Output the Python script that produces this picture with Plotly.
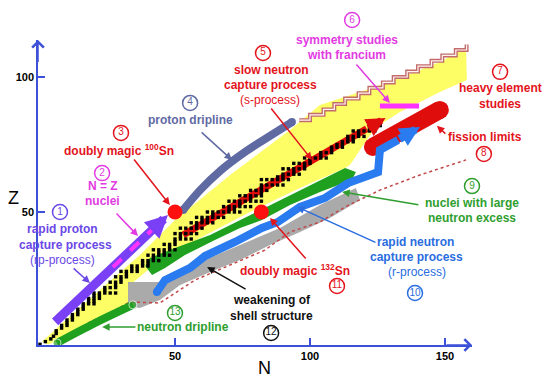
import plotly.graph_objects as go

# ---------------- data (N = neutron number, Z = proton number) ----------------
# stable nuclei: per Z the lowest / highest stable N (None = no stable isotope)
stable_Z = list(range(1, 84))
stable_Nmin = [0, 1, 3, 5, 5, 6, 7, 8, 10, 10,
               12, 12, 14, 14, 16, 16, 18, 18, 20, 20,
               24, 24, 28, 26, 30, 28, 32, 30, 34, 34,
               38, 38, 42, 40, 44, 42, 48, 46, 50, 50,
               52, 50, None, 52, 58, 56, 60, 58, 64, 62,
               70, 68, 74, 70, 78, 74, 82, 78, 82, 82,
               None, 82, 88, 90, 94, 90, 98, 94, 100, 98,
               104, 104, 108, 108, 110, 112, 114, 114, 118, 116,
               122, 124, 126]
stable_Nmax = [1, 2, 4, 5, 6, 7, 8, 10, 10, 12,
               12, 14, 14, 16, 16, 20, 20, 22, 22, 28,
               24, 28, 28, 30, 30, 32, 32, 36, 36, 40,
               40, 44, 42, 48, 46, 50, 48, 50, 50, 56,
               52, 58, None, 60, 58, 64, 62, 68, 64, 74,
               72, 78, 74, 82, 78, 82, 82, 84, 82, 90,
               None, 92, 90, 96, 94, 98, 98, 100, 100, 106,
               104, 108, 108, 112, 112, 116, 116, 120, 118, 124,
               124, 126, 126]

# region of known nuclei (yellow)
known_N = [0.7, 7.4, 22.2, 37.0, 50.0, 55.6, 70.4, 92.6, 103.7, 118.5, 133.3, 148.1, 157.8,
           158.1, 148.1, 133.3, 124.1, 118.5, 114.8, 113.0, 96.3, 77.8, 59.3, 44.4, 33.3, 33.3,
           22.2, 11.1, 3.0]
known_Z = [1.9, 8.1, 21.1, 34.1, 47.0, 51.5, 63.7, 80.4, 89.6, 94.4, 99.6, 105.6, 110.7,
           98.9, 94.4, 87.0, 81.1, 73.0, 67.4, 66.3, 58.9, 50.0, 40.4, 32.2, 23.0, 16.7,
           10.0, 4.1, 0.9]

# heavy-element staircase edge
stair_N = [96, 100, 105, 109, 113, 118, 122, 127, 131, 136, 140, 145, 149, 154, 158]
stair_Z = [84, 86, 88, 90, 92, 94, 96, 98, 100, 102, 104, 106, 108, 110, 112]

# weakening of shell structure (gray)
shell_N = [32.6, 44.4, 59.3, 74.1, 88.9, 103.7, 117.0, 118.5, 107.4, 96.3, 85.2, 74.1, 63.0,
           51.9, 44.4, 37.0, 32.6]
shell_Z = [24.1, 24.1, 31.5, 37.8, 44.1, 52.6, 58.9, 54.4, 47.8, 42.6, 37.8, 32.2, 27.8,
           23.0, 17.4, 14.4, 15.2]

# predicted limit (dotted)
limit_N = [17.8, 25.9, 33.3, 44.4, 57.4, 70.4, 83.3, 92.6, 103.7, 113.0, 125.9, 140.7, 157.8]
limit_Z = [8.9, 12.6, 16.7, 16.3, 24.8, 30.4, 35.9, 42.6, 46.3, 51.9, 58.1, 63.7, 69.3]

# nuclei with large neutron excess (green)
excess_N = [40.7, 50.0, 63.0, 77.8, 92.6, 103.7, 113.0, 117.0, 115.6, 103.7, 92.6, 82.2, 74.1,
            64.8, 53.7, 46.3, 41.5, 39.0]
excess_Z = [33.0, 36.7, 41.5, 48.9, 56.3, 61.9, 66.3, 64.8, 61.9, 57.4, 52.6, 47.0, 44.1,
            39.6, 34.1, 29.3, 26.7, 30.0]

# r-process path (blue)
r_N = [43.3, 46.3, 55.6, 61.1, 72.2, 82.2, 88.1, 96.3, 105.6, 114.1, 125.2, 125.9, 132.6, 140.7]
r_Z = [20.4, 24.8, 29.3, 33.7, 38.9, 44.1, 46.3, 51.9, 55.2, 60.7, 64.8, 73.0, 76.7, 81.5]

# s-process path (red)
s_N = [53.0, 121.0, 128.0]
s_Z = [41.5, 80.8, 84.8]

# rp-process path (purple) and N = Z segment
rp_N = [5.6, 43.0, 47.4]
rp_Z = [9.3, 44.7, 48.9]
nz_N = [27.0, 44.0]
nz_Z = [29.6, 45.7]

# driplines
pdrip_N = [53.0, 59.3, 66.7, 75.9, 83.3, 93.3]
pdrip_Z = [50.7, 58.1, 65.2, 72.2, 77.0, 83.3]
ndrip_N = [6.3, 20.4, 34.4]
ndrip_Z = [1.5, 8.9, 15.6]

# doubly magic nuclei
magic_N = [50, 82]
magic_Z = [50, 50]

# francium bar, fission limits
fr_N = [125.9, 140.4]
fr_Z = [89.3, 89.3]
fis_N = [123.3, 148.1]
fis_Z = [74.1, 87.8]

# circled numbers
num_text = [str(i) for i in range(1, 14)]
num_N = [7.4, 23.0, 30.0, 55.6, 82.6, 115.6, 170.4, 164.4, 160.0, 138.9, 110.0, 85.6, 50.0]
num_Z = [50.0, 64.4, 79.3, 90.4, 108.9, 121.1, 101.9, 71.5, 59.6, 20.0, 22.6, 5.2, 12.6]

x_ticks = [50, 100, 150]
y_ticks = [50, 100]

# ---------------- colours ----------------
PURPLE = "#6b48e6"
PURPLE_LINE = "#7a40f5"
MAGENTA = "#e23be2"
MAG_LINE = "#ff33ff"
RED = "#e3141c"
SLATE = "#5f6aa3"
GREEN = "#2f9e2f"
GREEN_FILL = "#1fa01f"
BLUE = "#2a6de0"
BLUE_LINE = "#2a7bef"
BLACK = "#111111"
AXIS = "#3d50d8"
FONT = "Liberation Sans, Arial, sans-serif"

num_colors = [PURPLE, MAGENTA, RED, SLATE, RED, MAGENTA, RED, RED, GREEN, BLUE, RED, BLACK, GREEN]

fig = go.Figure()

def add(**kw):
    fig.add_trace(go.Scatter(xaxis="x", yaxis="y", **kw))

# known nuclei
add(x=known_N, y=known_Z, fill="toself", fillcolor="#fdfd66", line=dict(width=0), mode="lines")
# staircase
add(x=stair_N, y=stair_Z, mode="lines", line=dict(color="#c26c6c", width=4, shape="hv"))
add(x=stair_N, y=stair_Z, mode="lines", line=dict(color="#fff4f0", width=1.2, shape="hv"))
# gray region
add(x=shell_N, y=shell_Z, fill="toself", fillcolor="#aaaaaa", line=dict(width=0), mode="lines")
# dotted limit
add(x=limit_N, y=limit_Z, mode="lines", line=dict(color="#c24848", width=1.5, dash="dot"))
# neutron-excess region
add(x=excess_N, y=excess_Z, fill="toself", fillcolor=GREEN_FILL, line=dict(width=0), mode="lines")
# fission limits
add(x=fis_N, y=fis_Z, mode="lines+markers", line=dict(color="#e00d0d", width=18),
    marker=dict(color="#e00d0d", size=18))
# r-process
add(x=r_N[:-1], y=r_Z[:-1], mode="lines", line=dict(color=BLUE_LINE, width=8))
add(x=r_N[:1], y=r_Z[:1], mode="markers", marker=dict(color=BLUE_LINE, size=8))
# neutron dripline
add(x=ndrip_N, y=ndrip_Z, mode="lines+markers", line=dict(color=GREEN_FILL, width=8, shape="spline"),
    marker=dict(color=GREEN_FILL, size=[8, 0, 8]))
# proton dripline
add(x=pdrip_N, y=pdrip_Z, mode="lines", line=dict(color=SLATE, width=8, shape="spline"))
add(x=[pdrip_N[0], pdrip_N[-1]], y=[pdrip_Z[0], pdrip_Z[-1]], mode="markers",
    marker=dict(color=SLATE, size=8))
# s-process
add(x=s_N[:2], y=s_Z[:2], mode="lines", line=dict(color="#e00d0d", width=7))
# stable nuclei
sq_N, sq_Z = [], []
for z, a, b in zip(stable_Z, stable_Nmin, stable_Nmax):
    if a is None:
        continue
    for n in range(a, b + 1):
        if n % 2 == 0 or a == b:
            sq_N.append(n)
            sq_Z.append(z)
add(x=sq_N, y=sq_Z, mode="markers",
    marker=dict(symbol="square", size=3.4, color="black", line=dict(width=0)))
# rp-process
add(x=rp_N[:2], y=rp_Z[:2], mode="lines", line=dict(color=PURPLE_LINE, width=9))
add(x=nz_N, y=nz_Z, mode="lines", line=dict(color=MAG_LINE, width=4, dash="dash"))
# doubly magic
add(x=magic_N, y=magic_Z, mode="markers", marker=dict(color="#ff1010", size=15))
# francium bar
add(x=fr_N, y=fr_Z, mode="lines", line=dict(color=MAG_LINE, width=5))
# circled numbers
add(x=num_N, y=num_Z, mode="markers+text", text=num_text, textposition="middle center",
    textfont=dict(family=FONT, size=10, color=num_colors),
    marker=dict(symbol="circle", size=15, color="white", line=dict(color=num_colors, width=1.5)))

# visible axes subplot (needs a trace to be drawn)
fig.add_trace(go.Scatter(x=[None], y=[None], xaxis="x2", yaxis="y2", mode="markers"))

ann = []
# thick arrow heads
for (xs, ys, col, w, sz) in [(s_N, s_Z, "#e00d0d", 7, 0.55),
                              (rp_N, rp_Z, PURPLE_LINE, 9, 0.5),
                              (r_N, r_Z, BLUE_LINE, 8, 0.5)]:
    ann.append(dict(x=xs[-1], y=ys[-1], ax=xs[-2], ay=ys[-2], xref="x", yref="y",
                    axref="x", ayref="y", text="", showarrow=True, arrowhead=2,
                    arrowsize=sz, arrowwidth=w, arrowcolor=col))

labels = [
    ("<b>rapid proton</b>", 8.5, 43.7, PURPLE),
    ("<b>capture process</b>", 9.3, 37.8, PURPLE),
    ("(rp-process)", 8.5, 32.2, PURPLE),
    ("<b>N = Z</b>", 23.3, 59.6, MAGENTA),
    ("<b>nuclei</b>", 23.3, 54.1, MAGENTA),
    ("<b>doubly magic <sup>100</sup>Sn</b>", 29.3, 73.0, RED),
    ("<b>proton dripline</b>", 55.6, 84.1, SLATE),
    ("<b>slow neutron</b>", 85.9, 102.6, RED),
    ("<b>capture process</b>", 85.2, 97.0, RED),
    ("(s-process)", 85.2, 91.5, RED),
    ("<b>symmetry studies</b>", 113.7, 113.7, MAGENTA),
    ("<b>with francium</b>", 113.7, 108.1, MAGENTA),
    ("<b>heavy element</b>", 170.4, 95.9, RED),
    ("<b>studies</b>", 170.4, 90.0, RED),
    ("<b>fission limits</b>", 164.8, 77.8, RED),
    ("<b>nuclei with large</b>", 160.0, 53.3, GREEN),
    ("<b>neutron excess</b>", 160.0, 47.8, GREEN),
    ("<b>rapid neutron</b>", 138.9, 38.9, BLUE),
    ("<b>capture process</b>", 139.6, 33.3, BLUE),
    ("(r-process)", 139.6, 27.8, BLUE),
    ("<b>doubly magic <sup>132</sup>Sn</b>", 94.4, 28.5, RED),
    ("<b>weakening of</b>", 85.9, 17.4, BLACK),
    ("<b>shell structure</b>", 85.9, 11.5, BLACK),
    ("<b>neutron dripline</b>", 53.0, 7.4, GREEN),
]
for t, x, y, c in labels:
    ann.append(dict(x=x, y=y, xref="x", yref="y", text=t, showarrow=False,
                    font=dict(family=FONT, size=12, color=c)))

pointers = [
    ((11.9, 29.6), (18.5, 23.7), PURPLE),
    ((27.8, 50.0), (36.3, 41.1), MAGENTA),
    ((34.4, 70.0), (48.1, 52.6), RED),
    ((59.3, 80.0), (71.1, 69.3), SLATE),
    ((85.2, 88.9), (100.7, 69.3), RED),
    ((116.7, 105.2), (129.6, 90.4), MAGENTA),
    ((150.7, 78.5), (147.0, 81.9), RED),
    ((140.7, 52.6), (111.9, 57.4), GREEN),
    ((124.8, 38.5), (95.2, 51.9), BLUE),
    ((98.9, 32.2), (85.2, 47.8), RED),
    ((76.7, 21.1), (61.9, 29.6), BLACK),
    ((35.9, 7.4), (23.0, 7.4), GREEN),
]
for (t, h, c) in pointers:
    ann.append(dict(x=h[0], y=h[1], ax=t[0], ay=t[1], xref="x", yref="y",
                    axref="x", ayref="y", text="", showarrow=True, arrowhead=2,
                    arrowsize=1, arrowwidth=1.5, arrowcolor=c))

# axis arrows and titles
ann.append(dict(x=160, y=0.74, ax=150, ay=0.74, xref="x", yref="y", axref="x", ayref="y",
                text="", showarrow=True, arrowhead=4, arrowsize=1.5, arrowwidth=1.5, arrowcolor=AXIS))
ann.append(dict(x=-0.74, y=113.7, ax=-0.74, ay=105, xref="x", yref="y", axref="x", ayref="y",
                text="", showarrow=True, arrowhead=4, arrowsize=1.5, arrowwidth=1.5, arrowcolor=AXIS))
ann.append(dict(x=-10, y=55.2, xref="x", yref="y", text="Z", showarrow=False,
                font=dict(family=FONT, size=18, color="black")))
ann.append(dict(x=83.3, y=-7.8, xref="x", yref="y", text="N", showarrow=False,
                font=dict(family=FONT, size=18, color="black")))

# content axes span the whole figure (2.7 px per unit, origin at px (40, 347))
fig.update_layout(
    width=544, height=378,
    margin=dict(l=0, r=0, t=0, b=0, autoexpand=False),
    paper_bgcolor="white", plot_bgcolor="rgba(0,0,0,0)",
    showlegend=False, hovermode=False,
    annotations=ann,
    xaxis=dict(domain=[0, 1], range=[-14.815, 186.667], visible=False, anchor="y",
               fixedrange=True),
    yaxis=dict(domain=[0, 1], range=[-11.481, 128.519], visible=False, anchor="x",
               fixedrange=True),
    xaxis2=dict(domain=[38 / 544, 472 / 544], range=[-0.7407, 160], anchor="y2",
                showline=True, linecolor=AXIS, linewidth=1.5, automargin=False,
                showgrid=False, zeroline=False, ticks="inside", ticklen=7, tickwidth=1.5,
                tickcolor=AXIS, tickvals=x_ticks, ticktext=[f"<b>{v}</b>" for v in x_ticks],
                tickfont=dict(family=FONT, size=11, color="black"), fixedrange=True),
    yaxis2=dict(domain=[33 / 378, 338 / 378], range=[0.7407, 113.70], anchor="x2",
                showline=True, linecolor=AXIS, linewidth=1.5, automargin=False,
                showgrid=False, zeroline=False, ticks="inside", ticklen=7, tickwidth=1.5,
                tickcolor=AXIS, tickvals=y_ticks, ticktext=[f"<b>{v}</b>" for v in y_ticks],
                tickfont=dict(family=FONT, size=11, color="black"), fixedrange=True),
)

fig.write_html("out.html", config={"displayModeBar": False},
               post_script="document.body.style.margin='0';document.body.style.overflow='hidden';")
